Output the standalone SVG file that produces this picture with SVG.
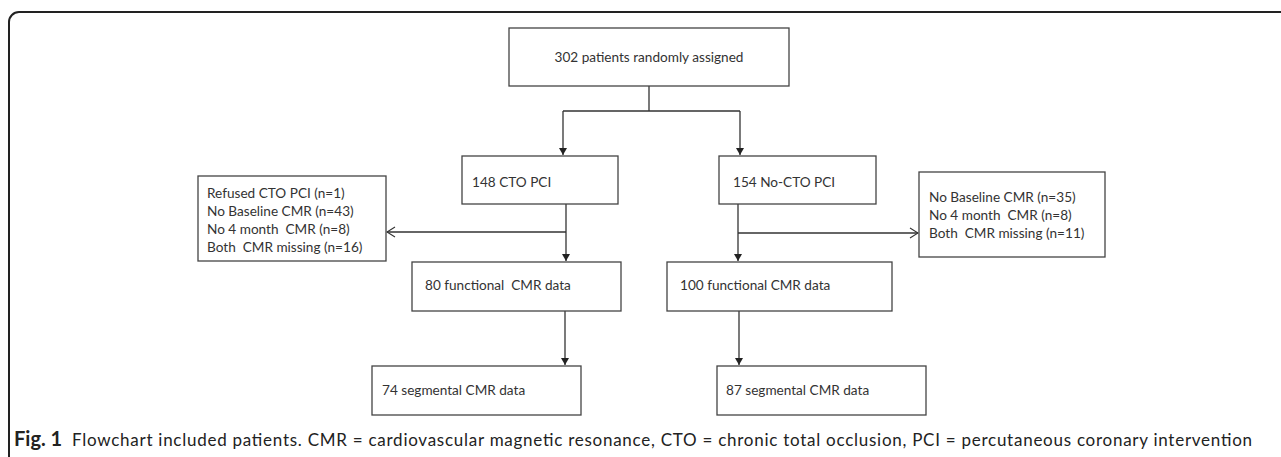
<svg xmlns="http://www.w3.org/2000/svg" width="1281" height="457" viewBox="0 0 1281 457">
<style>
.box{fill:#fff;stroke:#444;stroke-width:1.3}
.t{font-family:Lato,"Liberation Sans",sans-serif;font-size:13.6px;fill:#333;white-space:pre}
.c{fill:none;stroke:#333;stroke-width:1.3}
.cap{font-family:Lato,"Open Sans",sans-serif;font-size:17px;fill:#222}
.fig{font-family:Lato,"Open Sans",sans-serif;font-size:20px;font-weight:bold;fill:#222}
</style>
<defs>
<marker id="af" markerWidth="8" markerHeight="8" refX="7" refY="4" orient="auto" markerUnits="userSpaceOnUse">
<path d="M0,0 L7,4 L0,8 Z" fill="#222"/>
</marker>
<marker id="ao" markerWidth="10" markerHeight="12" refX="9" refY="6" orient="auto" markerUnits="userSpaceOnUse">
<path d="M1,1 L9,6 L1,11" fill="none" stroke="#333" stroke-width="1.1"/>
</marker>
</defs>
<rect width="1281" height="457" fill="#fff"/>
<path d="M9 457 V22 A10 10 0 0 1 19 12 H1281" fill="none" stroke="#222" stroke-width="2"/>
<g id="connectors">
<path class="c" d="M649 86 V111 M563 111 H740"/>
<path class="c" d="M563 111 V155" marker-end="url(#af)"/>
<path class="c" d="M740 111 V155" marker-end="url(#af)"/>
<path class="c" d="M566 204 V261" marker-end="url(#af)"/>
<path class="c" d="M566 232 H387" marker-end="url(#ao)"/>
<path class="c" d="M738 204 V261" marker-end="url(#af)"/>
<path class="c" d="M738 233 H918" marker-end="url(#ao)"/>
<path class="c" d="M565 311 V365" marker-end="url(#af)"/>
<path class="c" d="M739 311 V365" marker-end="url(#af)"/>
</g>
<g id="n-random">
<rect class="box" x="509" y="28" width="280" height="58"/>
<text class="t" x="649" y="62" text-anchor="middle">302 patients randomly assigned</text>
</g>
<g id="n-cto">
<rect class="box" x="462" y="156" width="156" height="48"/>
<text class="t" x="472" y="187">148 CTO PCI</text>
</g>
<g id="n-nocto">
<rect class="box" x="719" y="156" width="157" height="48"/>
<text class="t" x="733" y="187">154 No-CTO PCI</text>
</g>
<g id="n-excl-left">
<rect class="box" x="198" y="176" width="188" height="85"/>
<text class="t" x="207" y="198">Refused CTO PCI (n=1)</text>
<text class="t" x="207" y="216">No Baseline CMR (n=43)</text>
<text class="t" x="207" y="234" xml:space="preserve">No 4 month  CMR (n=8)</text>
<text class="t" x="207" y="252" xml:space="preserve">Both  CMR missing (n=16)</text>
</g>
<g id="n-excl-right">
<rect class="box" x="919" y="172" width="186" height="85"/>
<text class="t" x="929" y="202">No Baseline CMR (n=35)</text>
<text class="t" x="929" y="220" xml:space="preserve">No 4 month  CMR (n=8)</text>
<text class="t" x="929" y="238" xml:space="preserve">Both  CMR missing (n=11)</text>
</g>
<g id="n-func-cto">
<rect class="box" x="412" y="262" width="209" height="49"/>
<text class="t" x="425" y="290" xml:space="preserve">80 functional  CMR data</text>
</g>
<g id="n-func-nocto">
<rect class="box" x="667" y="262" width="225" height="49"/>
<text class="t" x="680" y="290">100 functional CMR data</text>
</g>
<g id="n-seg-cto">
<rect class="box" x="372" y="366" width="209" height="49"/>
<text class="t" x="382" y="395">74 segmental CMR data</text>
</g>
<g id="n-seg-nocto">
<rect class="box" x="717" y="366" width="209" height="49"/>
<text class="t" x="726" y="395">87 segmental CMR data</text>
</g>
<text class="fig" x="14" y="446">Fig. 1</text>
<text class="cap" x="72" y="446" textLength="1180" lengthAdjust="spacing">Flowchart included patients. CMR = cardiovascular magnetic resonance, CTO = chronic total occlusion, PCI = percutaneous coronary intervention</text>
</svg>
